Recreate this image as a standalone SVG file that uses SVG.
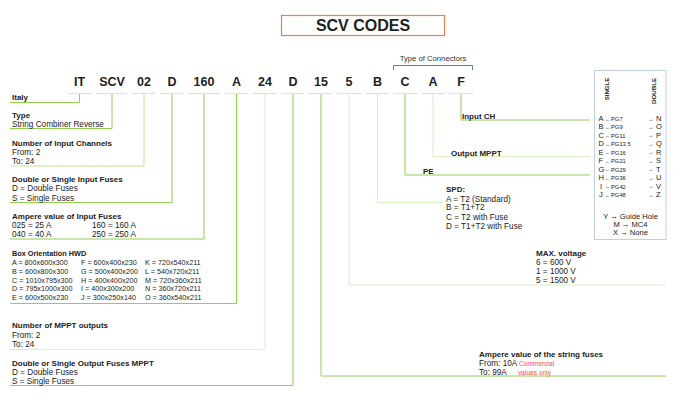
<svg xmlns="http://www.w3.org/2000/svg" width="680" height="412" viewBox="0 0 680 412">
<style>
text{font-family:"Liberation Sans",Arial,sans-serif;fill:#222}
.code{font-size:12.5px;font-weight:bold;text-anchor:middle}
.h{font-size:8px;font-weight:bold}
.b{font-size:8.2px}
.s{font-size:7.2px}
.red{font-size:6.6px;fill:#ff4a4a}
.bl{font-size:7.5px}
.pg{font-size:5.8px}
.ar{font-size:5.5px}
.yt{font-size:7.6px;text-anchor:middle}
.c line,.c path{fill:none;stroke-width:1}
.g{stroke:#92d050}
.m{stroke:#bfe39b}
.p{stroke:#d9efc6}
.dash{stroke:#d4ecbc;stroke-width:1}
</style>
<rect width="680" height="412" fill="#fff"/>
<g id="title">
<rect x="281.5" y="15.5" width="163" height="20" fill="#fff" stroke="#ec7a52" stroke-width="1.2"/>
<text x="363" y="31" style="font-size:16px;font-weight:bold;text-anchor:middle">SCV CODES</text>
</g>
<g id="codes">
<text class="code" x="79.5" y="86">IT</text>
<text class="code" x="112" y="86">SCV</text>
<text class="code" x="144" y="86">02</text>
<text class="code" x="172" y="86">D</text>
<text class="code" x="204" y="86">160</text>
<text class="code" x="236.5" y="86">A</text>
<text class="code" x="265" y="86">24</text>
<text class="code" x="293" y="86">D</text>
<text class="code" x="321" y="86">15</text>
<text class="code" x="349" y="86">5</text>
<text class="code" x="377.5" y="86">B</text>
<text class="code" x="405" y="86">C</text>
<text class="code" x="433" y="86">A</text>
<text class="code" x="461" y="86">F</text>
<g class="dash">
<line x1="68" y1="93.5" x2="92" y2="93.5"/>
<line x1="96" y1="93.5" x2="127" y2="93.5"/>
<line x1="132" y1="93.5" x2="155" y2="93.5"/>
<line x1="160" y1="93.5" x2="183" y2="93.5"/>
<line x1="188" y1="93.5" x2="220" y2="93.5"/>
<line x1="225" y1="93.5" x2="248" y2="93.5"/>
<line x1="253" y1="93.5" x2="277" y2="93.5"/>
<line x1="281" y1="93.5" x2="304" y2="93.5"/>
<line x1="309" y1="93.5" x2="332" y2="93.5"/>
<line x1="337" y1="93.5" x2="361" y2="93.5"/>
<line x1="365" y1="93.5" x2="389" y2="93.5"/>
<line x1="393" y1="93.5" x2="417" y2="93.5"/>
<line x1="421" y1="93.5" x2="445" y2="93.5"/>
<line x1="449" y1="93.5" x2="473" y2="93.5"/>
</g>
</g>
<g id="connector-type">
<path d="M393.5,70 V65.5 H472.5 V70" fill="none" stroke="#5b7fa6" stroke-width="1"/>
<text x="433" y="61" style="font-size:7.7px;text-anchor:middle;fill:#333">Type of Connectors</text>
</g>
<g id="connectors" class="c">
<path class="g" d="M79.5,94 V102.5 H10"/>
<path class="g" d="M112,94 V128.5 H10"/>
<path class="m" d="M144,94 V166 H10"/>
<path class="g" d="M172,94 V202.5 H10"/>
<path class="g" d="M204,94 V239 H10"/>
<path class="g" d="M236.5,94 V303.5 H10"/>
<path class="p" d="M265,94 V349.5 H10"/>
<path class="g" d="M293,94 V385.5 H10"/>
<path class="g" d="M321,94 V376 H666"/>
<path class="p" d="M349,94 V285 H666"/>
<path class="p" d="M377.5,94 V202.5 H443"/>
<path class="g" d="M405,94 V175 H590"/>
<path class="p" d="M433,94 V156.5 H590"/>
<path class="g" d="M461,94 V120 H590"/>
</g>
<g id="italy"><text class="h" x="12" y="100">Italy</text></g>
<g id="type">
<text class="h" x="12" y="118">Type</text>
<text class="b" x="12" y="127">String Combiner Reverse</text>
</g>
<g id="input-channels">
<text class="h" x="12" y="145.5">Number of Input Channels</text>
<text class="b" x="12" y="155">From: 2</text>
<text class="b" x="12" y="164">To: 24</text>
</g>
<g id="input-fuses">
<text class="h" x="12" y="182">Double or Single Input Fuses</text>
<text class="b" x="12" y="191">D = Double Fuses</text>
<text class="b" x="12" y="200.5">S = Single Fuses</text>
</g>
<g id="ampere-input">
<text class="h" x="12" y="218.5">Ampere value of Input Fuses</text>
<text class="b" x="12" y="227.5">025 = 25 A</text>
<text class="b" x="92" y="227.5">160 = 160 A</text>
<text class="b" x="12" y="237">040 = 40 A</text>
<text class="b" x="92" y="237">250 = 250 A</text>
</g>
<g id="box-orientation">
<text x="12" y="256" style="font-size:7.3px;font-weight:bold">Box Orientation HWD</text>
<text class="s" x="12" y="265">A = 800x600x300</text>
<text class="s" x="81" y="265">F = 600x400x230</text>
<text class="s" x="145" y="265">K = 720x540x211</text>
<text class="s" x="12" y="273.8">B = 600x800x300</text>
<text class="s" x="81" y="273.8">G = 500x400x200</text>
<text class="s" x="145" y="273.8">L = 540x720x211</text>
<text class="s" x="12" y="282.6">C = 1010x795x300</text>
<text class="s" x="81" y="282.6">H = 400x400x200</text>
<text class="s" x="145" y="282.6">M = 720x360x211</text>
<text class="s" x="12" y="291.4">D = 795x1000x300</text>
<text class="s" x="81" y="291.4">I = 400x300x200</text>
<text class="s" x="145" y="291.4">N = 360x720x211</text>
<text class="s" x="12" y="300.2">E = 600x500x230</text>
<text class="s" x="81" y="300.2">J = 300x250x140</text>
<text class="s" x="145" y="300.2">O = 360x540x211</text>
</g>
<g id="mppt-outputs">
<text class="h" x="12" y="328">Number of MPPT outputs</text>
<text class="b" x="12" y="338">From: 2</text>
<text class="b" x="12" y="347">To: 24</text>
</g>
<g id="output-fuses">
<text class="h" x="12" y="365.5">Double or Single Output Fuses MPPT</text>
<text class="b" x="12" y="374.5">D = Double Fuses</text>
<text class="b" x="12" y="383.5">S = Single Fuses</text>
</g>
<g id="string-fuses">
<text class="h" x="479" y="357">Ampere value of the string fuses</text>
<text class="b" x="479" y="365.5">From: 10A</text>
<text class="red" x="519" y="365.5">Commercial</text>
<text class="b" x="479" y="374.5">To: 99A</text>
<text class="red" x="518" y="374.5">values only</text>
</g>
<g id="max-voltage">
<text class="h" x="536" y="256">MAX. voltage</text>
<text class="b" x="536" y="264.5">6 = 600 V</text>
<text class="b" x="536" y="273.5">1 = 1000 V</text>
<text class="b" x="536" y="283">5 = 1500 V</text>
</g>
<g id="spd">
<text class="h" x="446" y="192">SPD:</text>
<text class="b" x="446" y="201.5">A = T2 (Standard)</text>
<text class="b" x="446" y="210">B = T1+T2</text>
<text class="b" x="446" y="219.5">C = T2 with Fuse</text>
<text class="b" x="446" y="229">D = T1+T2 with Fuse</text>
</g>
<g id="pe"><text class="h" x="423" y="173.5">PE</text></g>
<g id="output-mppt"><text class="h" x="451" y="155.5">Output MPPT</text></g>
<g id="input-ch"><text class="h" x="462" y="118.5">Input CH</text></g>
<g id="connector-table">
<rect x="594.5" y="70.5" width="71.5" height="169" fill="#fff" stroke="#c0d0e2" stroke-width="1"/>
<text transform="translate(609,89) rotate(-90)" style="font-size:6px;font-weight:bold;text-anchor:middle">SINGLE</text>
<text transform="translate(656,91) rotate(-90)" style="font-size:6.2px;font-weight:bold;text-anchor:middle">DOUBLE</text>
<g class="bl">
<text x="598.5" y="121">A</text><text x="598.5" y="129.45">B</text><text x="598.5" y="137.9">C</text><text x="598.5" y="146.35">D</text><text x="598.5" y="154.8">E</text><text x="598.5" y="163.25">F</text><text x="598.5" y="171.7">G</text><text x="598.5" y="180.15">H</text><text x="600" y="188.6">I</text><text x="599" y="197.05">J</text>
<text x="656" y="121">N</text><text x="656" y="129.45">O</text><text x="656" y="137.9">P</text><text x="656" y="146.35">Q</text><text x="656" y="154.8">R</text><text x="656" y="163.25">S</text><text x="656" y="171.7">T</text><text x="656" y="180.15">U</text><text x="656" y="188.6">V</text><text x="656" y="197.05">Z</text>
</g>
<g class="ar">
<text x="605" y="120.5">←</text><text x="605" y="128.95">←</text><text x="605" y="137.4">←</text><text x="605" y="145.85">←</text><text x="605" y="154.3">←</text><text x="605" y="162.75">←</text><text x="605" y="171.2">←</text><text x="605" y="179.65">←</text><text x="605" y="188.1">←</text><text x="605" y="196.55">←</text>
<text x="648" y="120.5">→</text><text x="648" y="128.95">→</text><text x="648" y="137.4">→</text><text x="648" y="145.85">→</text><text x="648" y="154.3">→</text><text x="648" y="162.75">→</text><text x="648" y="171.2">→</text><text x="648" y="179.65">→</text><text x="648" y="188.1">→</text><text x="648" y="196.55">→</text>
</g>
<g class="pg">
<text x="611" y="121">PG7</text><text x="611" y="129.45">PG9</text><text x="611" y="137.9">PG11</text><text x="611" y="146.35">PG13,5</text><text x="611" y="154.8">PG16</text><text x="611" y="163.25">PG21</text><text x="611" y="171.7">PG29</text><text x="611" y="180.15">PG36</text><text x="611" y="188.6">PG42</text><text x="611" y="197.05">PG48</text>
</g>
<text class="yt" x="630.5" y="219">Y → Guide Hole</text>
<text class="yt" x="630.5" y="227">M → MC4</text>
<text class="yt" x="630.5" y="235">X → None</text>
</g>
</svg>
